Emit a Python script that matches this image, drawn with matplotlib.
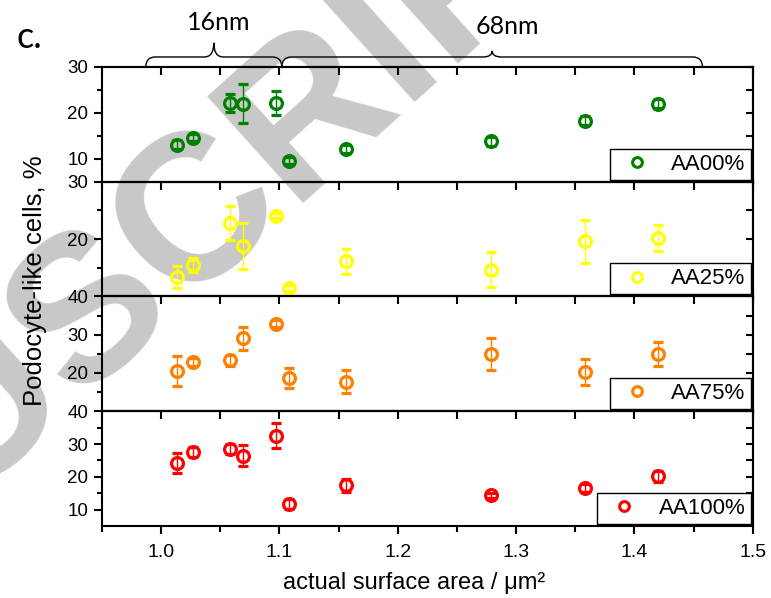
import numpy as np
import matplotlib.pyplot as plt
from matplotlib.path import Path
from matplotlib.patches import PathPatch
from matplotlib.lines import Line2D
from matplotlib.ticker import MultipleLocator
import matplotlib.transforms as mtransforms

plt.rcParams['font.family'] = ['Liberation Sans', 'DejaVu Sans']

# ---- data ----
area = [1.013, 1.027, 1.058, 1.069, 1.097, 1.108, 1.156, 1.279, 1.358, 1.420]

aa00 = [13.1, 14.6, 22.2, 22.0, 22.1, 9.6, 12.2, 13.8, 18.3, 22.0]
aa00_err = [1.0, 0.8, 2.0, 4.2, 2.6, 0.7, 0.9, 1.0, 1.0, 1.0]
aa25 = [13.4, 15.5, 22.8, 18.8, 24.1, 11.5, 16.1, 14.7, 19.6, 20.2]
aa25_err = [1.9, 1.2, 2.9, 4.0, 0.5, 0.5, 2.1, 3.0, 3.7, 2.2]
aa75 = [20.5, 22.8, 23.3, 29.1, 32.9, 18.8, 17.7, 25.0, 20.3, 25.0]
aa75_err = [4.0, 1.0, 1.5, 3.0, 1.0, 2.6, 3.0, 4.2, 3.4, 3.2]
aa100 = [24.3, 27.5, 28.4, 26.4, 32.5, 11.7, 17.4, 14.4, 16.5, 20.1]
aa100_err = [3.1, 1.6, 1.5, 3.2, 3.8, 1.5, 2.0, 0.8, 1.2, 1.7]

labels = ["AA00%", "AA25%", "AA75%", "AA100%"]
colors = ["#008000", "#FFFF00", "#FF8000", "#FF0000"]
values = [aa00, aa25, aa75, aa100]
errors = [aa00_err, aa25_err, aa75_err, aa100_err]
ylims = [(5, 30), (10, 30), (10, 40), (5, 40)]
ymajor = [[10, 20, 30], [20, 30], [20, 30, 40], [10, 20, 30, 40]]
yminor = [[15, 25], [15, 25], [15, 25, 35], [15, 25, 35]]

LW = 1.5


def brace(ax, x0, x1, y0, y1, ytip, r):
    # curly brace in (data x, axes y) coordinates
    xm = 0.5 * (x0 + x1)
    verts = [(x0, y0), (x0, y1), (x0 + r, y1),
             (xm - r, y1),
             (xm, y1), (xm, ytip),
             (xm, y1), (xm + r, y1),
             (x1 - r, y1),
             (x1, y1), (x1, y0)]
    codes = [Path.MOVETO, Path.CURVE3, Path.CURVE3,
             Path.LINETO,
             Path.CURVE3, Path.CURVE3,
             Path.CURVE3, Path.CURVE3,
             Path.LINETO,
             Path.CURVE3, Path.CURVE3]
    trans = mtransforms.blended_transform_factory(ax.transData, ax.transAxes)
    ax.add_patch(PathPatch(Path(verts, codes), fc="none", ec="black", lw=1.0,
                           transform=trans, clip_on=False))


fig, axes = plt.subplots(4, 1, sharex=True, figsize=(7.71, 5.98), dpi=100,
                         gridspec_kw=dict(hspace=0))
fig.subplots_adjust(left=0.1323, right=0.9763, bottom=0.1204, top=0.888)

# manuscript watermark, behind everything
fig.text(0.117, 0.483, "MANUSCRIPT", fontsize=150, fontweight="bold",
         color="#c8c8c8", rotation=42, rotation_mode="anchor",
         ha="center", va="center", zorder=-5)

for i, ax in enumerate(axes):
    ax.set_facecolor("none")
    ax.errorbar(area, values[i], yerr=errors[i], fmt="o", ms=8.5, mfc="none",
                mec=colors[i], mew=2.3, ecolor=colors[i], elinewidth=1.0,
                capsize=3.5, capthick=1.0, clip_on=False, zorder=3)
    ax.set_xlim(0.95, 1.5)
    ax.set_ylim(*ylims[i])
    ax.set_yticks(ymajor[i])
    ax.set_yticks(yminor[i], minor=True)
    for s in ax.spines.values():
        s.set_linewidth(LW)
    ax.tick_params(axis="y", which="major", direction="out", length=6,
                   width=LW, labelsize=13.5, pad=4)
    ax.tick_params(axis="y", which="minor", direction="out", length=3.5,
                   width=LW)
    ax.xaxis.set_major_locator(MultipleLocator(0.1))
    ax.xaxis.set_minor_locator(MultipleLocator(0.05))

    sy = ax.secondary_yaxis("right")
    sy.set_yticks(ymajor[i])
    sy.set_yticks(yminor[i], minor=True)
    sy.tick_params(which="both", direction="in", length=5, width=LW,
                   labelright=False)
    sy.spines["right"].set_linewidth(LW)

    sx = ax.secondary_xaxis("top")
    sx.xaxis.set_major_locator(MultipleLocator(0.1))
    sx.xaxis.set_minor_locator(MultipleLocator(0.05))
    sx.tick_params(which="both", direction="in", length=6, width=LW,
                   labeltop=False)
    sx.spines["top"].set_linewidth(LW)

    if i < 3:
        ax.tick_params(axis="x", which="both", bottom=False, labelbottom=False)
    else:
        ax.tick_params(axis="x", which="major", direction="out", length=6,
                       width=LW, labelsize=14, pad=7)
        ax.tick_params(axis="x", which="minor", direction="out", length=4,
                       width=LW)

    handle = Line2D([], [], ls="none", marker="o", ms=7, mfc="none",
                    mec=colors[i], mew=2.2)
    leg = ax.legend([handle], [labels[i]], loc="lower right", fontsize=16,
                    frameon=True, fancybox=False, framealpha=1,
                    edgecolor="black", borderaxespad=0.1, numpoints=1,
                    handlelength=2.0, handletextpad=0.55, borderpad=0.22)
    leg.get_frame().set_linewidth(1.0)
    leg.set_zorder(5)

axes[-1].set_xlabel("actual surface area / μm²", fontsize=17)
axes[-1].xaxis.set_label_coords(0.48, -0.40)
fig.text(0.045, 0.53, "Podocyte-like cells, %", fontsize=18.5, rotation=90,
         ha="center", va="center")

# size braces on the top panel
top = axes[0]
brace(top, 0.987, 1.102, 1.0, 1.087, 1.21, 0.008)
brace(top, 1.102, 1.4575, 1.0, 1.087, 1.14, 0.008)
trans = mtransforms.blended_transform_factory(top.transData, top.transAxes)
top.text(1.049, 1.39, "16nm", fontsize=18, family="Lato", ha="center",
         va="center", transform=trans)
top.text(1.2927, 1.355, "68nm", fontsize=18, family="Lato", ha="center",
         va="center", transform=trans)
fig.text(0.022, 0.92, "c.", fontsize=26, family="Lato", ha="left",
         va="baseline")

fig.savefig("out.png", dpi=100)
